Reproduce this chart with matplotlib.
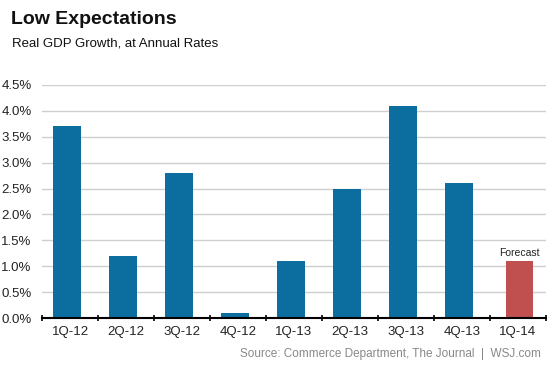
import matplotlib
matplotlib.use("Agg")
import matplotlib.pyplot as plt
import numpy as np

categories = ["1Q-12", "2Q-12", "3Q-12", "4Q-12", "1Q-13", "2Q-13", "3Q-13", "4Q-13", "1Q-14"]
values = [3.7, 1.2, 2.8, 0.1, 1.1, 2.5, 4.1, 2.6, 1.1]
is_forecast = [False, False, False, False, False, False, False, False, True]
yticks = [0.0, 0.5, 1.0, 1.5, 2.0, 2.5, 3.0, 3.5, 4.0, 4.5]

plt.rcParams['font.family'] = ['Liberation Sans', 'DejaVu Sans']

fig = plt.figure(figsize=(5.53, 3.69), dpi=100)
ax = fig.add_axes([0.076, 0.138, 0.911, 0.632])

blue = "#0b6e9f"
red = "#c0504f"
x = np.arange(len(categories))
colors = [red if f else blue for f in is_forecast]
shift = np.array([0.03 if f else -0.05 for f in is_forecast])
ax.bar(x + shift, values, width=0.5, color=colors, zorder=3)

ax.set_xlim(-0.5, len(categories) - 0.5)
ax.set_ylim(0, 4.5)
ax.set_yticks(yticks)
ax.set_yticklabels([f"{v:.1f}%" for v in yticks], fontsize=9.5, color="#222222")
ax.set_xticks(x)
ax.set_xticklabels(categories, fontsize=9.5, color="#222222")
ax.tick_params(axis='x', which='major', length=0, pad=5.5)
ax.set_xticks(np.arange(-0.5, len(categories) + 0.5, 1), minor=True)
ax.tick_params(axis='x', which='minor', direction='inout', length=5, width=1.2, color='black')
ax.tick_params(axis='y', length=0, pad=7.5)

for s in ['top', 'right', 'left']:
    ax.spines[s].set_visible(False)
ax.spines['bottom'].set_linewidth(1.5)
ax.spines['bottom'].set_zorder(4)
ax.yaxis.grid(True, color="#cfcfcf", linewidth=1.0, zorder=0)
ax.set_axisbelow(True)

for xi, s, v, f in zip(x, shift, values, is_forecast):
    if f:
        ax.text(xi + s, v + 0.05, "Forecast", ha='center', va='bottom', fontsize=7.5, color="#222222")

fig.text(0.02, 0.948, "Low Expectations", fontsize=14, fontweight='bold', ha='left', va='center', color="#111111")
fig.text(0.022, 0.882, "Real GDP Growth, at Annual Rates", fontsize=9.5, ha='left', va='center', color="#111111")
fig.text(0.978, 0.042, "Source: Commerce Department, The Journal  |  WSJ.com", fontsize=8.5, ha='right', va='center', color="#888888")

fig.savefig("out.png", dpi=100)
